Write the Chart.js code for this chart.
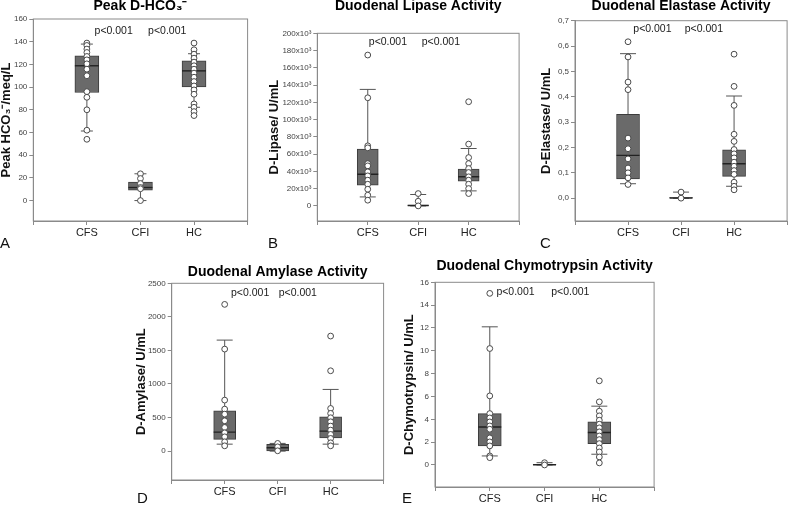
<!DOCTYPE html>
<html>
<head>
<meta charset="utf-8">
<script src="https://cdn.jsdelivr.net/npm/chart.js@4.4.0/dist/chart.umd.min.js"></script>
<style>
  body { margin: 0; background: #fff; width: 800px; height: 505px; overflow: hidden; position: relative;
         font-family: "Liberation Sans", Arial, Helvetica, sans-serif; }
  .panel { position: absolute; }
  .letter { position: absolute; font-size: 15px; line-height: 18px; color: #111; }
</style>
</head>
<body>
<script>
const groups = ['CFS', 'CFI', 'HC'];
const pText = ['p<0.001', 'p<0.001'];

// box stats per group: [whisker low, Q1, median, Q3, whisker high]
const hco3Stats = [[61.3, 95.2, 118.8, 127.6, 137.9], [0, 9.1, 11.5, 16.2, 23.6], [82.2, 100.2, 114.3, 123.2, 129.4]];
const hco3Points = [
  [138.8, 136.7, 133.5, 130.5, 127, 124, 120.5, 115.8, 110, 96, 91, 80, 62, 54],
  [23.6, 19.4, 15, 11.5, 10.4, 0],
  [138.8, 132.9, 129, 125.5, 122, 118.8, 115.8, 112.3, 108.7, 104.9, 101, 97.5, 93.7, 85.2, 82.2, 78.4, 74.9]
];
const hco3Ticks = [0, 20, 40, 60, 80, 100, 120, 140, 160];

const lipaseStats = [[10400, 24000, 36700, 65800, 135000], [0, 0, 500, 1000, 13200], [17400, 28600, 33700, 42600, 66500]];
const lipasePoints = [
  [174800, 125300, 69600, 67300, 49000, 46400, 39500, 34800, 29800, 25100, 19300, 12400, 6600],
  [14300, 5400, 0],
  [120700, 71600, 56000, 49000, 43300, 38700, 33700, 29800, 25100, 20100, 14300]
];
const lipaseTicks = [0, 20000, 40000, 60000, 80000, 100000, 120000, 140000, 160000, 180000, 200000];

const elastaseStats = [[0.057, 0.076, 0.169, 0.331, 0.570], [0, 0, 0.001, 0.002, 0.024], [0.047, 0.086, 0.136, 0.191, 0.403]];
const elastasePoints = [
  [0.617, 0.557, 0.458, 0.428, 0.237, 0.195, 0.155, 0.119, 0.1, 0.08, 0.054],
  [0.024, 0],
  [0.568, 0.441, 0.366, 0.252, 0.224, 0.192, 0.175, 0.159, 0.142, 0.126, 0.109, 0.094, 0.063, 0.047, 0.033]
];
const elastaseTicks = [0, 0.1, 0.2, 0.3, 0.4, 0.5, 0.6, 0.7];

const amylaseStats = [[104, 174, 283, 601, 1654], [0, 5, 50, 100, 115], [104, 198, 298, 512, 919]];
const amylasePoints = [
  [2186, 1520, 760, 626, 551, 452, 353, 273, 213, 139, 79],
  [115, 64, 5],
  [1714, 1197, 636, 562, 497, 437, 373, 313, 249, 189, 124, 79]
];
const amylaseTicks = [0, 500, 1000, 1500, 2000, 2500];

const chymoStats = [[0.79, 1.67, 3.33, 4.5, 12.1], [0, 0, 0.02, 0.05, 0.2], [0.94, 1.87, 2.84, 3.77, 5.15]];
const chymoPoints = [
  [15.03, 10.2, 6.05, 4.5, 4.12, 3.77, 3.42, 3.13, 2.37, 2.02, 1.67, 0.79, 0.64],
  [0.2, 0],
  [7.37, 5.53, 4.71, 4.3, 3.92, 3.57, 3.25, 2.9, 2.54, 2.22, 1.87, 1.49, 1.14, 0.7, 0.18]
];
const chymoTicks = [0, 2, 4, 6, 8, 10, 12, 14, 16];

Chart.defaults.font.family = '"Liberation Sans", Arial, Helvetica, sans-serif';
Chart.defaults.animation = false;
Chart.defaults.plugins.legend.display = false;
Chart.defaults.plugins.tooltip.enabled = false;

// where each plot sits on the page (chart area in px)
const panels = [
  { letter: 'A', title: 'Peak D-HCO₃⁻', yTitle: 'Peak HCO₃⁻/meq/L',
    stats: hco3Stats, points: hco3Points, ticks: hco3Ticks, yMin: -18, yMax: 160,
    fmt: v => String(v), pPos: [[1.5, 149], [2.5, 149]],
    area: { left: 33.3, right: 257.2, top: 19, bottom: 220.7 }, titleY: 6.5, yTitleX: 7,
    box: 24, cap: 6, letterPos: [0, 234] },
  { letter: 'B', title: 'Duodenal Lipase Activity', yTitle: 'D-Lipase/ U/mL',
    stats: lipaseStats, points: lipasePoints, ticks: lipaseTicks, yMin: -17500, yMax: 200000,
    fmt: v => v === 0 ? '0' : (v / 1000) + 'x10³', pPos: [[1.4, 190000], [2.45, 190000]],
    area: { left: 317.3, right: 527.5, top: 33.3, bottom: 220.7 }, titleY: 6.5, yTitleX: 275,
    box: 21, cap: 8, letterPos: [268, 234] },
  { letter: 'C', title: 'Duodenal Elastase Activity', yTitle: 'D-Elastase/ U/mL',
    stats: elastaseStats, points: elastasePoints, ticks: elastaseTicks, yMin: -0.09, yMax: 0.7,
    fmt: v => v.toFixed(1).replace('.', ','), pPos: [[1.46, 0.666], [2.43, 0.666]],
    area: { left: 575, right: 797, top: 20.7, bottom: 220.7 }, titleY: 6.5, yTitleX: 546.7,
    box: 23, cap: 8, letterPos: [540, 234] },
  { letter: 'D', title: 'Duodenal Amylase Activity', yTitle: 'D-Amylase/ U/mL',
    stats: amylaseStats, points: amylasePoints, ticks: amylaseTicks, yMin: -430, yMax: 2500,
    fmt: v => String(v), pPos: [[1.48, 2350], [2.38, 2350]],
    area: { left: 171.7, right: 392.7, top: 283.3, bottom: 480 }, titleY: 272.7, yTitleX: 141.7,
    box: 22, cap: 8, letterPos: [137, 489] },
  { letter: 'E', title: 'Duodenal Chymotrypsin Activity', yTitle: 'D-Chymotrypsin/ U/mL',
    stats: chymoStats, points: chymoPoints, ticks: chymoTicks, yMin: -1.93, yMax: 16,
    fmt: v => String(v), pPos: [[1.47, 15.18], [2.47, 15.18]],
    area: { left: 435, right: 664, top: 282.3, bottom: 486.7 }, titleY: 266.7, yTitleX: 410,
    box: 23, cap: 8, letterPos: [402, 489] }
];

// thin grey frame round the plot
const framePlugin = {
  id: 'frame',
  beforeDatasetsDraw(chart) {
    const { ctx, chartArea: a } = chart;
    ctx.save();
    ctx.strokeStyle = '#8a8a8a';
    ctx.lineWidth = 1;
    ctx.strokeRect(a.left, a.top, a.right - a.left, a.bottom - a.top);
    ctx.restore();
  }
};

// p-value labels, placed in data coordinates
const pPlugin = {
  id: 'pLabels',
  afterDatasetsDraw(chart, args, opts) {
    const { ctx, scales: { x, y } } = chart;
    ctx.save();
    ctx.font = '10.5px "Liberation Sans", Arial, sans-serif';
    ctx.fillStyle = '#1a1a1a';
    ctx.textAlign = 'center';
    ctx.textBaseline = 'middle';
    opts.pos.forEach((m, i) => ctx.fillText(pText[i], x.getPixelForValue(m[0]), y.getPixelForValue(m[1])));
    ctx.restore();
  }
};

function makePanel(p) {
  const padR = 3, xH = 22, titleH = 16.8;
  const left = Math.round(p.yTitleX - 7.8);
  const top = Math.round(p.titleY - 8.4);
  const yW = p.area.left - left;
  const titlePad = p.area.top - top - titleH;
  const w = Math.ceil(p.area.right - left + padR);
  const h = Math.ceil(p.area.bottom - top + xH);

  const div = document.createElement('div');
  div.className = 'panel';
  div.style.left = left + 'px';
  div.style.top = top + 'px';
  const canvas = document.createElement('canvas');
  canvas.width = w;
  canvas.height = h;
  div.appendChild(canvas);
  document.body.appendChild(div);

  const lab = document.createElement('div');
  lab.className = 'letter';
  lab.textContent = p.letter;
  lab.style.left = p.letterPos[0] + 'px';
  lab.style.top = p.letterPos[1] + 'px';
  document.body.appendChild(lab);

  const s = p.stats;
  const boxData = groups.map((g, i) => ({ x: g, y: [s[i][1], s[i][3]] }));
  const whiskerData = [];
  groups.forEach((g, i) => {
    whiskerData.push({ x: g, y: s[i][0] }, { x: g, y: s[i][4] }, { x: g, y: null });
  });
  const capData = groups.flatMap((g, i) => [{ x: g, y: s[i][0] }, { x: g, y: s[i][4] }]);
  const medianData = groups.map((g, i) => ({ x: g, y: s[i][2] }));
  const pointData = groups.flatMap((g, i) => p.points[i].map(v => ({ x: g, y: v })));

  new Chart(canvas, {
    type: 'bar',
    data: {
      labels: ['', ...groups, ''],
      datasets: [
        { type: 'line', data: whiskerData, borderColor: '#555', borderWidth: 1, pointRadius: 0, spanGaps: false, order: 4 },
        { type: 'bar', data: boxData, backgroundColor: '#6a6a6a', borderColor: '#3c3c3c', borderWidth: 1,
          borderSkipped: false, barThickness: p.box, order: 3 },
        { type: 'scatter', data: capData, pointStyle: 'line', pointRadius: p.cap, pointBorderColor: '#555',
          pointBorderWidth: 1, order: 2 },
        { type: 'scatter', data: medianData, pointStyle: 'line', pointRadius: p.box / 2, pointBorderColor: '#222',
          pointBorderWidth: 1.4, order: 1 },
        { type: 'scatter', data: pointData, pointStyle: 'circle', pointRadius: 2.9, pointBackgroundColor: '#fff',
          pointBorderColor: '#4a4a4a', pointBorderWidth: 1, order: 0 }
      ]
    },
    options: {
      responsive: false,
      devicePixelRatio: 1,
      layout: { padding: { left: 0, right: padR, top: 0, bottom: 0 } },
      plugins: {
        title: { display: true, text: p.title, fullSize: false, color: '#000',
                 font: { size: 14, weight: 'bold' }, padding: { top: 0, bottom: titlePad } },
        pLabels: { pos: p.pPos }
      },
      scales: {
        x: {
          type: 'category', offset: false,
          grid: { offset: false, drawOnChartArea: false, tickLength: 4, color: '#8a8a8a' },
          border: { color: '#8a8a8a' },
          ticks: { color: '#222', font: { size: 11 }, padding: 1, autoSkip: false, maxRotation: 0 },
          afterFit: sc => { sc.height = xH; }
        },
        y: {
          type: 'linear', min: p.yMin, max: p.yMax,
          afterBuildTicks: sc => { sc.ticks = p.ticks.map(v => ({ value: v })); },
          grid: { drawOnChartArea: false, tickLength: 4, color: '#8a8a8a' },
          border: { color: '#8a8a8a' },
          ticks: { color: '#444', font: { size: 8 }, padding: 2, callback: v => p.fmt(v) },
          title: { display: true, text: p.yTitle, color: '#111', font: { size: 13, weight: 'bold' }, padding: 0 },
          afterFit: sc => { sc.width = yW; }
        }
      }
    },
    plugins: [framePlugin, pPlugin]
  });
}

panels.forEach(makePanel);
</script>
</body>
</html>
